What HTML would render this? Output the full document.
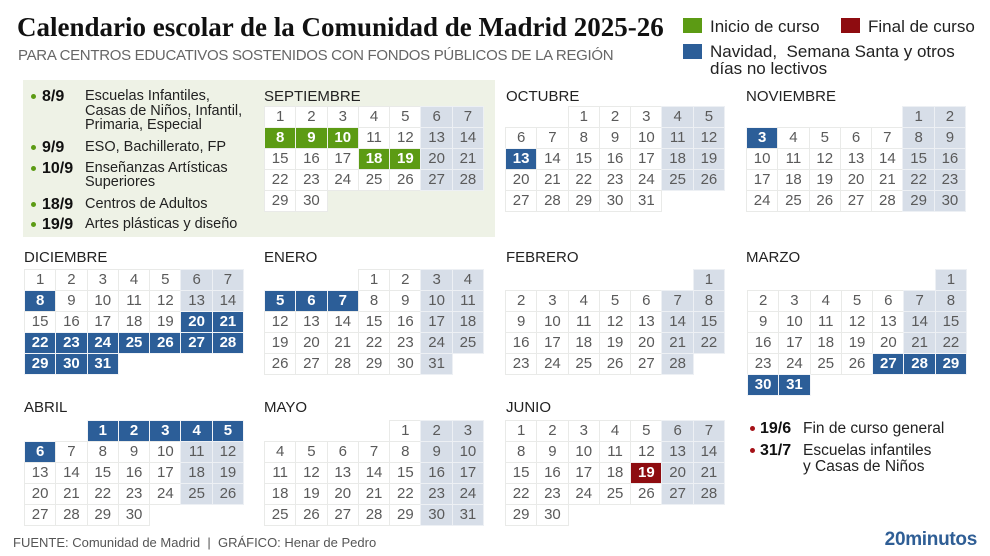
<!DOCTYPE html>
<html><head><meta charset="utf-8">
<style>
*{margin:0;padding:0;box-sizing:border-box}
body{width:990px;height:556px;background:#fff;position:relative;overflow:hidden;font-family:"Liberation Sans",Arial,sans-serif;color:#222}
.a{position:absolute;white-space:nowrap}
.title{left:17px;top:12px;font:bold 27px/30px "Liberation Serif",serif;color:#111}
.sub{left:18px;top:47px;font-size:15px;line-height:18px;color:#666;letter-spacing:-0.3px}
.box{left:23px;top:80px;width:472px;height:157px;background:#eef2e6}
.mt{font-size:15px;line-height:16px;color:#222}
.m{position:absolute;display:grid;grid-template-columns:repeat(7,30.3px);grid-auto-rows:20px;gap:1px}
.m span{background:#fff;outline:1px solid #e9eae8;text-align:center;font-size:15px;line-height:20px;color:#5a5a5a}
.m span.w{background:#d7dee8;outline-color:#edf0f4}
.m span.g{background:#5c9b14;color:#fff;font-weight:bold;outline-color:#f0f3ec}
.m span.b{background:#2c5e98;color:#fff;font-weight:bold;outline-color:#f2f4f7}
.m span.r{background:#8e0c10;color:#fff;font-weight:bold;outline-color:#f4eeee}
.sq{position:absolute;width:19px;height:15px}
.lg{font-size:17px;line-height:17px;color:#222}
.ln{font-size:14.5px;line-height:15px;color:#222}
.ln b{font-size:16px;color:#111}
.dot{position:absolute;width:5px;height:5px;border-radius:50%}
.rn{font-size:15.5px;line-height:16px;color:#222}
.rn b{font-size:16px;color:#111}
.foot{left:13px;top:535px;font-size:13px;line-height:15px;color:#555}
.logo{right:13px;top:530px;font-size:19px;line-height:20px;font-weight:bold;color:#2f5e95;letter-spacing:-0.3px}
</style></head><body>
<div class="a title">Calendario escolar de la Comunidad de Madrid 2025-26</div>
<div class="a sub">PARA CENTROS EDUCATIVOS SOSTENIDOS CON FONDOS PÚBLICOS DE LA REGIÓN</div>

<div class="sq" style="left:683px;top:18px;background:#5c9b14"></div>
<div class="a lg" style="left:710px;top:18px">Inicio de curso</div>
<div class="sq" style="left:841px;top:18px;background:#8e0c10"></div>
<div class="a lg" style="left:868px;top:18px">Final de curso</div>
<div class="sq" style="left:683px;top:44px;background:#2c5e98"></div>
<div class="a lg" style="left:710px;top:43px">Navidad,&nbsp; Semana Santa y otros</div>
<div class="a lg" style="left:710px;top:60px">días no lectivos</div>

<div class="a box"></div>
<div class="dot" style="left:31px;top:94px;background:#5c9b14"></div>
<div class="a ln" style="left:42px;top:89px"><b>8/9</b></div>
<div class="a ln" style="left:85px;top:89px">Escuelas Infantiles,</div>
<div class="a ln" style="left:85px;top:104px">Casas de Niños, Infantil,</div>
<div class="a ln" style="left:85px;top:118px">Primaria, Especial</div>
<div class="dot" style="left:31px;top:145px;background:#5c9b14"></div>
<div class="a ln" style="left:42px;top:140px"><b>9/9</b></div>
<div class="a ln" style="left:85px;top:140px">ESO, Bachillerato, FP</div>
<div class="dot" style="left:31px;top:166px;background:#5c9b14"></div>
<div class="a ln" style="left:42px;top:161px"><b>10/9</b></div>
<div class="a ln" style="left:85px;top:161px">Enseñanzas Artísticas</div>
<div class="a ln" style="left:85px;top:175px">Superiores</div>
<div class="dot" style="left:31px;top:202px;background:#5c9b14"></div>
<div class="a ln" style="left:42px;top:197px"><b>18/9</b></div>
<div class="a ln" style="left:85px;top:197px">Centros de Adultos</div>
<div class="dot" style="left:31px;top:222px;background:#5c9b14"></div>
<div class="a ln" style="left:42px;top:217px"><b>19/9</b></div>
<div class="a ln" style="left:85px;top:217px">Artes plásticas y diseño</div>

<div class="a mt" style="left:264px;top:89px">SEPTIEMBRE</div>
<div class="m" style="left:265px;top:107px">
<span>1</span><span>2</span><span>3</span><span>4</span><span>5</span><span class="w">6</span><span class="w">7</span>
<span class="g">8</span><span class="g">9</span><span class="g">10</span><span>11</span><span>12</span><span class="w">13</span><span class="w">14</span>
<span>15</span><span>16</span><span>17</span><span class="g">18</span><span class="g">19</span><span class="w">20</span><span class="w">21</span>
<span>22</span><span>23</span><span>24</span><span>25</span><span>26</span><span class="w">27</span><span class="w">28</span>
<span>29</span><span>30</span>
</div>

<div class="a mt" style="left:506px;top:89px">OCTUBRE</div>
<div class="m" style="left:506px;top:107px">
<span style="grid-column-start:3">1</span><span>2</span><span>3</span><span class="w">4</span><span class="w">5</span>
<span>6</span><span>7</span><span>8</span><span>9</span><span>10</span><span class="w">11</span><span class="w">12</span>
<span class="b">13</span><span>14</span><span>15</span><span>16</span><span>17</span><span class="w">18</span><span class="w">19</span>
<span>20</span><span>21</span><span>22</span><span>23</span><span>24</span><span class="w">25</span><span class="w">26</span>
<span>27</span><span>28</span><span>29</span><span>30</span><span>31</span>
</div>

<div class="a mt" style="left:746px;top:89px">NOVIEMBRE</div>
<div class="m" style="left:747px;top:107px">
<span class="w" style="grid-column-start:6">1</span><span class="w">2</span>
<span class="b">3</span><span>4</span><span>5</span><span>6</span><span>7</span><span class="w">8</span><span class="w">9</span>
<span>10</span><span>11</span><span>12</span><span>13</span><span>14</span><span class="w">15</span><span class="w">16</span>
<span>17</span><span>18</span><span>19</span><span>20</span><span>21</span><span class="w">22</span><span class="w">23</span>
<span>24</span><span>25</span><span>26</span><span>27</span><span>28</span><span class="w">29</span><span class="w">30</span>
</div>

<div class="a mt" style="left:24px;top:250px">DICIEMBRE</div>
<div class="m" style="left:25px;top:270px">
<span>1</span><span>2</span><span>3</span><span>4</span><span>5</span><span class="w">6</span><span class="w">7</span>
<span class="b">8</span><span>9</span><span>10</span><span>11</span><span>12</span><span class="w">13</span><span class="w">14</span>
<span>15</span><span>16</span><span>17</span><span>18</span><span>19</span><span class="b">20</span><span class="b">21</span>
<span class="b">22</span><span class="b">23</span><span class="b">24</span><span class="b">25</span><span class="b">26</span><span class="b">27</span><span class="b">28</span>
<span class="b">29</span><span class="b">30</span><span class="b">31</span>
</div>

<div class="a mt" style="left:264px;top:250px">ENERO</div>
<div class="m" style="left:265px;top:270px">
<span style="grid-column-start:4">1</span><span>2</span><span class="w">3</span><span class="w">4</span>
<span class="b">5</span><span class="b">6</span><span class="b">7</span><span>8</span><span>9</span><span class="w">10</span><span class="w">11</span>
<span>12</span><span>13</span><span>14</span><span>15</span><span>16</span><span class="w">17</span><span class="w">18</span>
<span>19</span><span>20</span><span>21</span><span>22</span><span>23</span><span class="w">24</span><span class="w">25</span>
<span>26</span><span>27</span><span>28</span><span>29</span><span>30</span><span class="w">31</span>
</div>

<div class="a mt" style="left:506px;top:250px">FEBRERO</div>
<div class="m" style="left:506px;top:270px">
<span class="w" style="grid-column-start:7">1</span>
<span>2</span><span>3</span><span>4</span><span>5</span><span>6</span><span class="w">7</span><span class="w">8</span>
<span>9</span><span>10</span><span>11</span><span>12</span><span>13</span><span class="w">14</span><span class="w">15</span>
<span>16</span><span>17</span><span>18</span><span>19</span><span>20</span><span class="w">21</span><span class="w">22</span>
<span>23</span><span>24</span><span>25</span><span>26</span><span>27</span><span class="w">28</span>
</div>

<div class="a mt" style="left:746px;top:250px">MARZO</div>
<div class="m" style="left:748px;top:270px">
<span class="w" style="grid-column-start:7">1</span>
<span>2</span><span>3</span><span>4</span><span>5</span><span>6</span><span class="w">7</span><span class="w">8</span>
<span>9</span><span>10</span><span>11</span><span>12</span><span>13</span><span class="w">14</span><span class="w">15</span>
<span>16</span><span>17</span><span>18</span><span>19</span><span>20</span><span class="w">21</span><span class="w">22</span>
<span>23</span><span>24</span><span>25</span><span>26</span><span class="b">27</span><span class="b">28</span><span class="b">29</span>
<span class="b">30</span><span class="b">31</span>
</div>

<div class="a mt" style="left:24px;top:400px">ABRIL</div>
<div class="m" style="left:25px;top:421px">
<span class="b" style="grid-column-start:3">1</span><span class="b">2</span><span class="b">3</span><span class="b">4</span><span class="b">5</span>
<span class="b">6</span><span>7</span><span>8</span><span>9</span><span>10</span><span class="w">11</span><span class="w">12</span>
<span>13</span><span>14</span><span>15</span><span>16</span><span>17</span><span class="w">18</span><span class="w">19</span>
<span>20</span><span>21</span><span>22</span><span>23</span><span>24</span><span class="w">25</span><span class="w">26</span>
<span>27</span><span>28</span><span>29</span><span>30</span>
</div>

<div class="a mt" style="left:264px;top:400px">MAYO</div>
<div class="m" style="left:265px;top:421px">
<span style="grid-column-start:5">1</span><span class="w">2</span><span class="w">3</span>
<span>4</span><span>5</span><span>6</span><span>7</span><span>8</span><span class="w">9</span><span class="w">10</span>
<span>11</span><span>12</span><span>13</span><span>14</span><span>15</span><span class="w">16</span><span class="w">17</span>
<span>18</span><span>19</span><span>20</span><span>21</span><span>22</span><span class="w">23</span><span class="w">24</span>
<span>25</span><span>26</span><span>27</span><span>28</span><span>29</span><span class="w">30</span><span class="w">31</span>
</div>

<div class="a mt" style="left:506px;top:400px">JUNIO</div>
<div class="m" style="left:506px;top:421px">
<span>1</span><span>2</span><span>3</span><span>4</span><span>5</span><span class="w">6</span><span class="w">7</span>
<span>8</span><span>9</span><span>10</span><span>11</span><span>12</span><span class="w">13</span><span class="w">14</span>
<span>15</span><span>16</span><span>17</span><span>18</span><span class="r">19</span><span class="w">20</span><span class="w">21</span>
<span>22</span><span>23</span><span>24</span><span>25</span><span>26</span><span class="w">27</span><span class="w">28</span>
<span>29</span><span>30</span>
</div>

<div class="dot" style="left:750px;top:426px;background:#a51218"></div>
<div class="a rn" style="left:760px;top:421px"><b>19/6</b></div>
<div class="a rn" style="left:803px;top:421px">Fin de curso general</div>
<div class="dot" style="left:750px;top:448px;background:#a51218"></div>
<div class="a rn" style="left:760px;top:443px"><b>31/7</b></div>
<div class="a rn" style="left:803px;top:443px">Escuelas infantiles</div>
<div class="a rn" style="left:803px;top:459px">y Casas de Niños</div>

<div class="a foot">FUENTE: Comunidad de Madrid &nbsp;|&nbsp; GRÁFICO: Henar de Pedro</div>
<div class="a logo">20minutos</div>
</body></html>
